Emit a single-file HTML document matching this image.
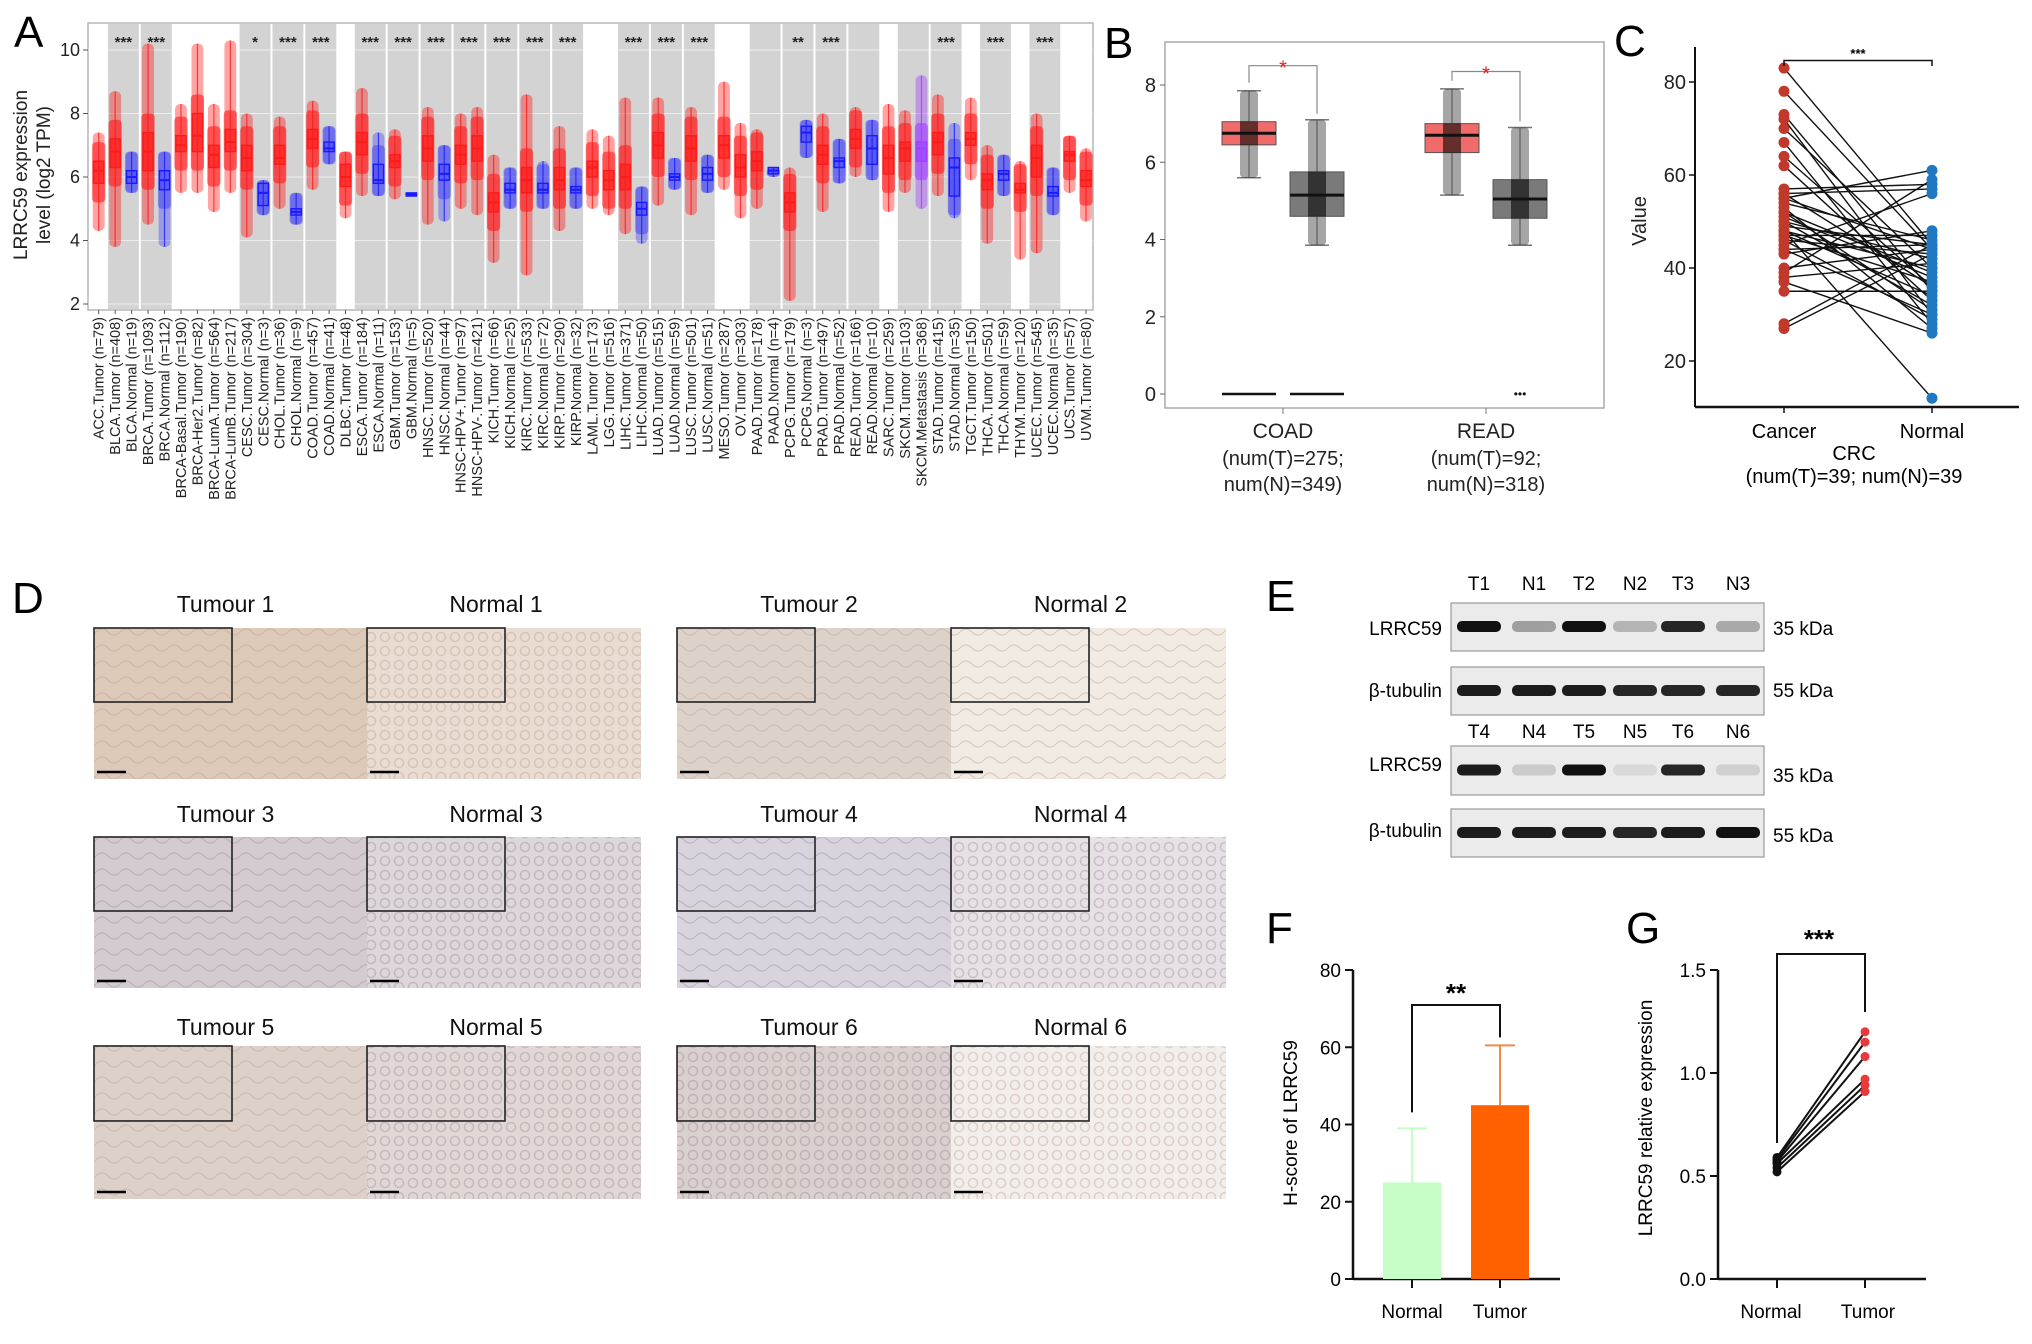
<!DOCTYPE html>
<html><head><meta charset="utf-8"><style>
html,body{margin:0;padding:0;background:#fff;}
svg{display:block;font-family:"Liberation Sans",sans-serif;}
</style></head><body>
<svg id="fig" width="2032" height="1344" viewBox="0 0 2032 1344" xmlns="http://www.w3.org/2000/svg">
<defs>
<pattern id="glands" width="14" height="14" patternUnits="userSpaceOnUse"><circle cx="7" cy="7" r="4.5" fill="none" stroke="#b59a8a" stroke-width="1.6"/></pattern>
<pattern id="glandsP" width="14" height="14" patternUnits="userSpaceOnUse"><circle cx="7" cy="7" r="4.5" fill="none" stroke="#8f8296" stroke-width="1.6"/></pattern>
<pattern id="wavy" width="24" height="16" patternUnits="userSpaceOnUse"><path d="M0 8 Q6 2 12 8 T24 8" fill="none" stroke="#b8a08f" stroke-width="1.5"/></pattern>
<pattern id="wavyP" width="24" height="16" patternUnits="userSpaceOnUse"><path d="M0 8 Q6 2 12 8 T24 8" fill="none" stroke="#968a9a" stroke-width="1.5"/></pattern>
</defs>
<g id="gA"></g>
<g id="gB"></g>
<g id="gC"></g>
<g id="gD"></g>
<g id="gE"></g>
<g id="gF"></g>
<g id="gG"></g>
</svg>
<script>
// ---------- Panel A data ----------
const aCategories = ["ACC.Tumor (n=79)","BLCA.Tumor (n=408)","BLCA.Normal (n=19)","BRCA.Tumor (n=1093)","BRCA.Normal (n=112)","BRCA-Basal.Tumor (n=190)","BRCA-Her2.Tumor (n=82)","BRCA-LumA.Tumor (n=564)","BRCA-LumB.Tumor (n=217)","CESC.Tumor (n=304)","CESC.Normal (n=3)","CHOL.Tumor (n=36)","CHOL.Normal (n=9)","COAD.Tumor (n=457)","COAD.Normal (n=41)","DLBC.Tumor (n=48)","ESCA.Tumor (n=184)","ESCA.Normal (n=11)","GBM.Tumor (n=153)","GBM.Normal (n=5)","HNSC.Tumor (n=520)","HNSC.Normal (n=44)","HNSC-HPV+.Tumor (n=97)","HNSC-HPV-.Tumor (n=421)","KICH.Tumor (n=66)","KICH.Normal (n=25)","KIRC.Tumor (n=533)","KIRC.Normal (n=72)","KIRP.Tumor (n=290)","KIRP.Normal (n=32)","LAML.Tumor (n=173)","LGG.Tumor (n=516)","LIHC.Tumor (n=371)","LIHC.Normal (n=50)","LUAD.Tumor (n=515)","LUAD.Normal (n=59)","LUSC.Tumor (n=501)","LUSC.Normal (n=51)","MESO.Tumor (n=287)","OV.Tumor (n=303)","PAAD.Tumor (n=178)","PAAD.Normal (n=4)","PCPG.Tumor (n=179)","PCPG.Normal (n=3)","PRAD.Tumor (n=497)","PRAD.Normal (n=52)","READ.Tumor (n=166)","READ.Normal (n=10)","SARC.Tumor (n=259)","SKCM.Tumor (n=103)","SKCM.Metastasis (n=368)","STAD.Tumor (n=415)","STAD.Normal (n=35)","TGCT.Tumor (n=150)","THCA.Tumor (n=501)","THCA.Normal (n=59)","THYM.Tumor (n=120)","UCEC.Tumor (n=545)","UCEC.Normal (n=35)","UCS.Tumor (n=57)","UVM.Tumor (n=80)"];
const aMedian = [6.2,6.8,6.0,6.8,5.9,7.0,7.3,6.7,7.1,6.6,5.5,6.6,4.9,7.2,6.9,6.0,7.1,5.9,6.5,5.45,6.9,6.1,6.7,6.9,5.2,5.6,5.9,5.6,5.9,5.6,6.3,5.9,6.0,5.0,7.0,6.0,6.9,6.1,7.0,6.3,6.5,6.2,5.2,7.4,6.7,6.5,7.2,6.9,6.6,6.9,6.9,7.1,6.3,7.2,5.9,6.1,5.6,6.6,5.5,6.7,5.9];
const aQ1 = [5.8,6.3,5.8,6.2,5.6,6.8,6.8,6.3,6.8,6.2,5.1,6.4,4.8,6.9,6.8,5.7,6.7,5.8,6.3,5.4,6.5,5.9,6.4,6.5,4.9,5.5,5.5,5.5,5.6,5.5,6.0,5.6,5.6,4.8,6.6,5.9,6.5,5.9,6.6,6.0,6.2,6.1,4.9,7.1,6.4,6.3,6.9,6.4,6.1,6.5,6.5,6.7,5.4,7.0,5.6,5.9,5.5,6.0,5.4,6.5,5.7];
const aQ3 = [6.5,7.2,6.2,7.4,6.2,7.3,8.0,7.0,7.5,7.0,5.8,7.0,5.0,7.5,7.1,6.4,7.4,6.4,6.7,5.5,7.3,6.4,7.0,7.3,5.5,5.8,6.3,5.8,6.3,5.7,6.5,6.2,6.4,5.2,7.4,6.1,7.3,6.3,7.3,6.7,6.8,6.3,5.5,7.6,7.0,6.6,7.5,7.3,7.0,7.1,7.1,7.4,6.6,7.4,6.1,6.2,5.8,7.0,5.7,6.8,6.2];
const aLow = [4.3,3.8,5.5,4.5,3.8,5.5,5.5,4.9,5.5,4.1,4.8,5.0,4.5,5.6,6.4,4.7,5.4,5.4,5.3,5.4,4.5,4.6,5.0,4.8,3.3,5.0,2.9,5.0,4.3,5.0,5.0,4.8,4.2,3.9,5.1,5.6,4.8,5.5,5.6,4.7,5.0,6.0,2.1,6.6,4.9,5.8,6.0,5.9,4.9,5.5,5.0,5.4,4.7,5.9,3.9,5.4,3.4,3.6,4.8,5.5,4.6];
const aHigh = [7.4,8.7,6.8,10.2,6.8,8.3,10.2,8.3,10.3,8.0,5.9,7.9,5.5,8.4,7.6,6.8,8.8,7.4,7.5,5.5,8.2,7.0,8.0,8.2,6.7,6.3,8.6,6.5,7.6,6.3,7.5,7.3,8.5,5.7,8.5,6.6,8.2,6.7,9.0,7.7,7.5,6.3,6.3,7.8,8.0,7.2,8.2,7.8,8.3,8.1,9.2,8.6,7.7,8.5,7.0,6.7,6.5,8.0,6.3,7.3,6.9];
const aGroups = [[1,2],[3,4],[9,10],[11,12],[13,14],[16,17],[18,19],[20,21],[22,23],[24,25],[26,27],[28,29],[32,33],[34,35],[36,37],[40,41],[42,43],[44,45],[46,47],[49,50],[51,52],[54,55],[57,58]];
const aStars = ["***","***","*","***","***","***","***","***","***","***","***","***","***","***","***","","**","***","","","***","***","***"];
const aTicks = [2,4,6,8,10];

// ---------- Panel B data ----------
const bCategories = ["COAD","READ"];
const bSub1 = ["(num(T)=275;","(num(T)=92;"];
const bSub2 = ["num(N)=349)","num(N)=318)"];
const bTumorStats = [[5.6,6.45,6.75,7.05,7.85],[5.15,6.25,6.7,7.0,7.9]];
const bNormalStats = [[3.85,4.6,5.15,5.75,7.1],[3.85,4.55,5.05,5.55,6.9]];
const bTicks = [0,2,4,6,8];

// ---------- Panel C data ----------
const cCancer = [83,78,73,72,70,67,64,62,57,56,55,55,54,53,52,51,50,49,48,48,47,47,46,46,45,44,43,40,39,38,37,35,28,27,50,52,56,44,48];
const cNormal = [45,44,35,30,40,28,36,33,58,57,61,44,46,27,31,38,42,45,12,34,47,37,43,29,56,45,48,44,59,41,26,35,45,43,32,39,36,30,40];
const cTicks = [20,40,60,80];

// ---------- Panel F data ----------
const fCategories = ["Normal","Tumor"];
const fMeans = [25,45];
const fErr = [14,15.5];
const fTicks = [0,20,40,60,80];

// ---------- Panel G data ----------
const gCategories = ["Normal","Tumor"];
const gNormal = [0.59,0.58,0.57,0.56,0.54,0.52];
const gTumor = [1.20,1.15,1.08,0.97,0.94,0.91];
const gTicks = [0.0,0.5,1.0,1.5];

const NS="http://www.w3.org/2000/svg";
function el(parent,tag,attrs,text){const e=document.createElementNS(NS,tag);for(const k in attrs)e.setAttribute(k,attrs[k]);if(text!==undefined)e.textContent=text;parent.appendChild(e);return e;}

// ===== Panel A =====
(function(){
const g=document.getElementById('gA');
const x0=88,x1=1093,yT=23,yB=310;
const n=aCategories.length, step=(1086-98.7)/(n-1);
const xs=i=>98.7+i*step;
const ys=v=>304-(v-2)*(254/8);
let t=el(g,'text',{x:14,y:47,'font-size':44});t.textContent='A';

el(g,'rect',{x:x0,y:yT,width:x1-x0,height:yB-yT,fill:'#fff',stroke:'#b5b5b5','stroke-width':1.5});
aGroups.forEach((gr,k)=>{
  const r=el(g,'rect',{x:xs(gr[0])-step/2+1,y:yT+1,width:step*(gr[1]-gr[0]+1)-2,height:yB-yT-2,fill:'#d3d3d3'});
  
  if(aStars[k]){const s=el(g,'text',{x:(xs(gr[0])+xs(gr[1]))/2,y:47,'font-size':15,'text-anchor':'middle','font-weight':'bold',fill:'#222'},aStars[k]);
  }
});
aTicks.forEach(v=>{
  el(g,'line',{x1:x0,x2:x1,y1:ys(v),y2:ys(v),stroke:'#fff','stroke-opacity':0.6,'stroke-width':1});
  el(g,'line',{x1:x0-5,x2:x0,y1:ys(v),y2:ys(v),stroke:'#555'});
  const tl=el(g,'text',{x:x0-8,y:ys(v)+6,'font-size':18,'text-anchor':'end',fill:'#222'},String(v));
  
});
for(let i=0;i<n;i++){
  const name=aCategories[i];
  const isN=name.includes('Normal');
  const col=isN?'#1a1aff':(name.includes('Metastasis')?'#a040ff':'#ff1a1a');
  const cx=xs(i), w=step*0.62;
  const cloud=el(g,'rect',{x:cx-step*0.36,y:ys(aHigh[i]),width:step*0.72,height:ys(aLow[i])-ys(aHigh[i]),fill:col,'fill-opacity':isN?0.3:0.4,rx:5});
  
  el(g,'rect',{x:cx-step*0.4,y:ys(Math.min(aHigh[i],aQ3[i]+0.6)),width:step*0.8,height:ys(Math.max(aLow[i],aQ1[i]-0.6))-ys(Math.min(aHigh[i],aQ3[i]+0.6)),fill:col,'fill-opacity':isN?0.35:0.6,rx:4});
  el(g,'line',{x1:cx,x2:cx,y1:ys(aHigh[i]),y2:ys(aLow[i]),stroke:col,'stroke-width':1.2,'stroke-opacity':0.8});
  const b=el(g,'rect',{x:cx-w/2,y:ys(aQ3[i]),width:w,height:Math.max(2,ys(aQ1[i])-ys(aQ3[i])),fill:col,'fill-opacity':isN?0.25:0.55,stroke:col,'stroke-width':1.4});
  
  el(g,'line',{x1:cx-w/2,x2:cx+w/2,y1:ys(aMedian[i]),y2:ys(aMedian[i]),stroke:col,'stroke-width':2});
  el(g,'line',{x1:cx,x2:cx,y1:yB,y2:yB+4,stroke:'#555'});
  const lab=el(g,'text',{x:0,y:0,'font-size':14.5,'text-anchor':'end',fill:'#222',transform:`translate(${cx+5},${yB+7}) rotate(-90)`},name);
  
}
const yt=el(g,'text',{'font-size':19,'text-anchor':'middle',fill:'#222',transform:'translate(27,175) rotate(-90)'});

el(yt,'tspan',{x:0,y:0},'LRRC59 expression');el(yt,'tspan',{x:0,y:23},'level (log2 TPM)');
})();

// ===== Panel B =====
(function(){
const g=document.getElementById('gB');
const fx0=1165,fx1=1604,fy0=42,fy1=408;
const ys=v=>394-v*(309/8);
const xc=[1283,1486];
let t=el(g,'text',{x:1104,y:58,'font-size':44});t.textContent='B';

el(g,'rect',{x:fx0,y:fy0,width:fx1-fx0,height:fy1-fy0,fill:'#fff',stroke:'#aaa','stroke-width':1.5});
bTicks.forEach(v=>{
  el(g,'line',{x1:fx0-5,x2:fx0,y1:ys(v),y2:ys(v),stroke:'#666'});
  const tl=el(g,'text',{x:fx0-9,y:ys(v)+7,'font-size':20,'text-anchor':'end',fill:'#222'},String(v));
  
});
function box(cx,s,fill,name){
  const w=54;
  el(g,'line',{x1:cx,x2:cx,y1:ys(s[4]),y2:ys(s[0]),stroke:'#777'});
  el(g,'line',{x1:cx-12,x2:cx+12,y1:ys(s[4]),y2:ys(s[4]),stroke:'#777','stroke-width':1.5});
  el(g,'line',{x1:cx-12,x2:cx+12,y1:ys(s[0]),y2:ys(s[0]),stroke:'#777','stroke-width':1.5});
  const b=el(g,'rect',{x:cx-w/2,y:ys(s[3]),width:w,height:ys(s[1])-ys(s[3]),fill:fill,stroke:'#555','stroke-width':1});
  
  const c=el(g,'rect',{x:cx-9,y:ys(s[4]),width:18,height:ys(s[0])-ys(s[4]),fill:'#000','fill-opacity':0.35,rx:4});
  
  el(g,'rect',{x:cx-9,y:ys(s[3]),width:18,height:ys(s[1])-ys(s[3]),fill:'#000','fill-opacity':0.35});
  el(g,'line',{x1:cx-w/2,x2:cx+w/2,y1:ys(s[2]),y2:ys(s[2]),stroke:'#111','stroke-width':3});
}
bCategories.forEach((c,i)=>{
  const tx=xc[i]-34, nx=xc[i]+34;
  box(tx,bTumorStats[i],'#f26b6b','tumor-box');
  box(nx,bNormalStats[i],'#7a7a7a','normal-box');
  el(g,'line',{x1:xc[i],x2:xc[i],y1:fy1,y2:fy1+6,stroke:'#777'});
  const by=ys(Math.max(bTumorStats[i][4],bNormalStats[i][4])+0.45+(i===0?0.2:0));
  el(g,'path',{d:`M${tx} ${ys(bTumorStats[i][4])-8} V${by} H${nx} V${ys(bNormalStats[i][4])-6}`,fill:'none',stroke:'#888','stroke-width':1.2});
  el(g,'text',{x:(tx+nx)/2,y:by+9,'font-size':20,'text-anchor':'middle',fill:'#e82020'},'*');
  const l1=el(g,'text',{x:xc[i],y:438,'font-size':21,'text-anchor':'middle',fill:'#222'},c);
  
  el(g,'text',{x:xc[i],y:465,'font-size':20,'text-anchor':'middle',fill:'#222'},bSub1[i]);
  el(g,'text',{x:xc[i],y:491,'font-size':20,'text-anchor':'middle',fill:'#222'},bSub2[i]);
});
el(g,'line',{x1:1222,x2:1276,y1:ys(0),y2:ys(0),stroke:'#111','stroke-width':2.5});
el(g,'line',{x1:1290,x2:1344,y1:ys(0),y2:ys(0),stroke:'#111','stroke-width':2.5});
el(g,'text',{x:1520,y:ys(0)+4,'font-size':12,'text-anchor':'middle',fill:'#111'},'•••');
})();

// ===== Panel C =====
(function(){
const g=document.getElementById('gC');
const ax=1695, ay=407;
const ys=v=>82+(80-v)*(279/60);
const xC=1784,xN=1932;
let t=el(g,'text',{x:1614,y:56,'font-size':44});t.textContent='C';

el(g,'line',{x1:ax,x2:ax,y1:47,y2:ay,stroke:'#111','stroke-width':2});
el(g,'line',{x1:ax,x2:2019,y1:ay,y2:ay,stroke:'#111','stroke-width':2.5});
cTicks.forEach(v=>{
  el(g,'line',{x1:ax-6,x2:ax,y1:ys(v),y2:ys(v),stroke:'#111','stroke-width':1.5});
  const tl=el(g,'text',{x:ax-9,y:ys(v)+7,'font-size':20,'text-anchor':'end',fill:'#222'},String(v));
  
});
[xC,xN].forEach(x=>el(g,'line',{x1:x,x2:x,y1:ay,y2:ay+6,stroke:'#111','stroke-width':1.5}));
for(let i=0;i<cCancer.length;i++){
  const l=el(g,'line',{x1:xC,y1:ys(cCancer[i]),x2:xN,y2:ys(cNormal[i]),stroke:'#111','stroke-width':1.4});
  
}
for(let i=0;i<cCancer.length;i++){
  const a=el(g,'circle',{cx:xC,cy:ys(cCancer[i]),r:5.5,fill:'#c0392b'});
  
  const b=el(g,'circle',{cx:xN,cy:ys(cNormal[i]),r:5.5,fill:'#1f78c1'});
  
}
el(g,'path',{d:`M${xC} 66 V60.5 H${xN} V66`,fill:'none',stroke:'#111','stroke-width':1.5});
el(g,'text',{x:(xC+xN)/2,y:58,'font-size':13,'text-anchor':'middle','font-weight':'bold'},'***');
const vt=el(g,'text',{'font-size':20,'text-anchor':'middle',fill:'#222',transform:'translate(1646,221) rotate(-90)'},'Value');

el(g,'text',{x:xC,y:438,'font-size':20,'text-anchor':'middle'},'Cancer');
el(g,'text',{x:xN,y:438,'font-size':20,'text-anchor':'middle'},'Normal');
el(g,'text',{x:1854,y:460,'font-size':20,'text-anchor':'middle'},'CRC');
el(g,'text',{x:1854,y:483,'font-size':20,'text-anchor':'middle'},'(num(T)=39; num(N)=39');
})();

// ===== Panel D =====
(function(){
const g=document.getElementById('gD');
let t=el(g,'text',{x:12,y:613,'font-size':44});t.textContent='D';

const cols=[94,367,677,951], w=[273,274,274,275];
const rows=[[604,628,779],[814,837,988],[1027,1046,1199]];
const titles=[["Tumour 1","Normal 1","Tumour 2","Normal 2"],["Tumour 3","Normal 3","Tumour 4","Normal 4"],["Tumour 5","Normal 5","Tumour 6","Normal 6"]];
const base=[["#ddc9b8","#e9dcd2","#ddd2c9","#f1ebe4"],["#d3cbd0","#ddd6da","#d9d3dd","#e7e1e6"],["#dcd0c9","#e1d8d6","#dad0cd","#f2eeec"]];
const pat=[["wavy","glands","wavy","wavy"],["wavyP","glandsP","wavyP","glandsP"],["wavy","glandsP","glandsP","glands"]];
rows.forEach((r,ri)=>{
  cols.forEach((cx,ci)=>{
    const tl=el(g,'text',{x:cx+w[ci]/2+(ci%2===0?-5:-8),y:r[0]+8,'font-size':23,'text-anchor':'middle',fill:'#111'},titles[ri][ci]);
    
    const im=el(g,'rect',{x:cx,y:r[1],width:w[ci],height:r[2]-r[1],fill:base[ri][ci]});
    
    el(g,'rect',{x:cx,y:r[1],width:w[ci],height:r[2]-r[1],fill:`url(#${pat[ri][ci]})`,opacity:0.35});
    el(g,'rect',{x:cx,y:r[1],width:138,height:(r[2]-r[1])*0.49,fill:'none',stroke:'#222','stroke-width':1.6});
    el(g,'line',{x1:cx+3,x2:cx+32,y1:r[2]-7,y2:r[2]-7,stroke:'#000','stroke-width':2.5});
  });
});
})();

// ===== Panel E =====
(function(){
const g=document.getElementById('gE');
let t=el(g,'text',{x:1266,y:611,'font-size':44});t.textContent='E';

const laneX=[1479,1534,1584,1635,1683,1738];
const lab1=["T1","N1","T2","N2","T3","N3"],lab2=["T4","N4","T5","N5","T6","N6"];
const boxes=[[603,651,"LRRC59",628,"35 kDa",628],[667,715,"β-tubulin",690,"55 kDa",690],[746,795,"LRRC59",764,"35 kDa",775],[809,857,"β-tubulin",830,"55 kDa",835]];
const inten=[[1,0.35,1,0.25,0.9,0.3],[0.95,0.95,0.95,0.9,0.9,0.9],[0.95,0.15,1,0.08,0.9,0.12],[0.95,0.95,0.95,0.9,0.95,1]];
lab1.forEach((s,i)=>el(g,'text',{x:laneX[i],y:590,'font-size':19,'text-anchor':'middle'},s));
lab2.forEach((s,i)=>el(g,'text',{x:laneX[i],y:738,'font-size':19,'text-anchor':'middle'},s));
boxes.forEach((b,bi)=>{
  const r=el(g,'rect',{x:1451,y:b[0],width:313,height:b[1]-b[0],fill:'#ebebeb',stroke:'#999','stroke-width':1.2});
  
  laneX.forEach((x,i)=>{
    const v=inten[bi][i];
    el(g,'rect',{x:x-22,y:(b[0]+b[1])/2-6,width:44,height:11,rx:5,fill:'#111','fill-opacity':v});
  });
  el(g,'text',{x:1442,y:b[3]+7,'font-size':19,'text-anchor':'end'},b[2]);
  el(g,'text',{x:1773,y:b[5]+7,'font-size':19},b[4]);
});
})();

// ===== Panel F =====
(function(){
const g=document.getElementById('gF');
let t=el(g,'text',{x:1266,y:943,'font-size':44});t.textContent='F';

const ax=1353, ay=1279;
const ys=v=>ay-v*(309/80);
const xc=[1412,1500], cols=['#c6fcc6','#ff6000'], ecols=['#c6fcc6','#f08a4a'];
el(g,'line',{x1:ax,x2:ax,y1:ys(80),y2:ay,stroke:'#111','stroke-width':2.5});
el(g,'line',{x1:ax,x2:1560,y1:ay,y2:ay,stroke:'#111','stroke-width':2.5});
fTicks.forEach(v=>{
  el(g,'line',{x1:ax-8,x2:ax,y1:ys(v),y2:ys(v),stroke:'#111','stroke-width':2});
  const tl=el(g,'text',{x:ax-12,y:ys(v)+7,'font-size':19,'text-anchor':'end'},String(v));
  
});
fCategories.forEach((c,i)=>{
  el(g,'line',{x1:xc[i],x2:xc[i],y1:ys(fMeans[i]),y2:ys(fMeans[i]+fErr[i]),stroke:ecols[i],'stroke-width':2});
  el(g,'line',{x1:xc[i]-15,x2:xc[i]+15,y1:ys(fMeans[i]+fErr[i]),y2:ys(fMeans[i]+fErr[i]),stroke:ecols[i],'stroke-width':2});
  const b=el(g,'rect',{x:xc[i]-29,y:ys(fMeans[i]),width:58,height:ay-ys(fMeans[i]),fill:cols[i]});
  
  el(g,'line',{x1:xc[i],x2:xc[i],y1:ay,y2:ay+9,stroke:'#111','stroke-width':2});
  el(g,'text',{x:xc[i],y:1318,'font-size':19,'text-anchor':'middle'},c);
});
el(g,'path',{d:`M${xc[0]} ${ys(fMeans[0]+fErr[0])-16} V1005 H${xc[1]} V${ys(fMeans[1]+fErr[1])-8}`,fill:'none',stroke:'#111','stroke-width':2});
el(g,'text',{x:1456,y:1002,'font-size':26,'text-anchor':'middle','font-weight':'bold'},'**');
const yt=el(g,'text',{'font-size':19,'text-anchor':'middle',transform:'translate(1297,1123) rotate(-90)'},'H-score of LRRC59');

})();

// ===== Panel G =====
(function(){
const g=document.getElementById('gG');
let t=el(g,'text',{x:1626,y:943,'font-size':44});t.textContent='G';

const ax=1718, ay=1279;
const ys=v=>ay-v*(309/1.5);
const xN=1777,xT=1865;
el(g,'line',{x1:ax,x2:ax,y1:ys(1.5),y2:ay,stroke:'#111','stroke-width':2.5});
el(g,'line',{x1:ax,x2:1926,y1:ay,y2:ay,stroke:'#111','stroke-width':2.5});
gTicks.forEach(v=>{
  el(g,'line',{x1:ax-8,x2:ax,y1:ys(v),y2:ys(v),stroke:'#111','stroke-width':2});
  const tl=el(g,'text',{x:ax-12,y:ys(v)+7,'font-size':19,'text-anchor':'end'},v.toFixed(1));
  
});
[xN,xT].forEach((x,i)=>{
  el(g,'line',{x1:x,x2:x,y1:ay,y2:ay+9,stroke:'#111','stroke-width':2});
  el(g,'text',{x:x+(i?3:-6),y:1318,'font-size':19,'text-anchor':'middle'},gCategories[i]);
});
for(let i=0;i<gNormal.length;i++){
  const l=el(g,'line',{x1:xN,y1:ys(gNormal[i]),x2:xT,y2:ys(gTumor[i]),stroke:'#111','stroke-width':2});
  
}
for(let i=0;i<gNormal.length;i++){
  const a=el(g,'circle',{cx:xN,cy:ys(gNormal[i]),r:4.5,fill:'#111'});
  
  const b=el(g,'circle',{cx:xT,cy:ys(gTumor[i]),r:4.5,fill:'#e83a3a'});
  
}
el(g,'path',{d:`M${xN} 1143 V954 H${xT} V1012`,fill:'none',stroke:'#111','stroke-width':2});
el(g,'text',{x:1819,y:948,'font-size':26,'text-anchor':'middle','font-weight':'bold'},'***');
const yt=el(g,'text',{'font-size':19,'text-anchor':'middle',transform:'translate(1652,1118) rotate(-90)'},'LRRC59 relative expression');

})();
</script>
</body></html>
